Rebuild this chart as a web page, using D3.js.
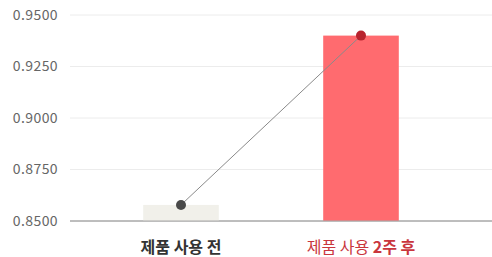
<!DOCTYPE html>
<html>
<head>
<meta charset="utf-8">
<script src="https://cdn.jsdelivr.net/npm/d3@7"></script>
<style>
  body { margin: 0; background: #fff; }
  svg { display: block; font-family: "Noto Sans CJK KR", "Noto Sans", sans-serif; }
</style>
</head>
<body>
<div id="chart"></div>
<script>
// data
var categories = ["제품 사용 전", "제품 사용 2주 후"];
var values = [0.8578, 0.9400];
var yTicks = [0.8500, 0.8750, 0.9000, 0.9250, 0.9500];

var width = 492, height = 257;
var margin = { top: 15, right: 0, bottom: 36, left: 70 };

var svg = d3.select("#chart")
    .append("svg")
    .attr("width", width)
    .attr("height", height);

// Y scale
var y = d3.scaleLinear()
    .domain([0.85, 0.95])
    .range([height - margin.bottom, margin.top]);

// X scale
var x = d3.scaleBand()
    .domain(categories)
    .range([91, 451])
    .paddingInner(0.58)
    .paddingOuter(0.29);

// gridlines
svg.append("g")
    .selectAll("line")
    .data(yTicks)
    .join("line")
    .attr("x1", margin.left)
    .attr("x2", width)
    .attr("y1", d => y(d))
    .attr("y2", d => y(d))
    .attr("stroke", d => d == 0.85 ? "#a8a8a8" : "#ececec")
    .attr("stroke-width", 1);

// tick labels
svg.append("g")
    .selectAll("text")
    .data(yTicks)
    .join("text")
    .attr("x", 58)
    .attr("y", d => y(d))
    .attr("dy", "0.35em")
    .attr("text-anchor", "end")
    .attr("fill", "#666")
    .style("font-size", "14px")
    .style("letter-spacing", "0.4px")
    .text(d => d.toFixed(4));

// bars
var barColors = ["#f1f0ea", "#ff6b6f"];
svg.append("g")
    .selectAll("rect")
    .data(values)
    .join("rect")
    .attr("x", (d, i) => x(categories[i]))
    .attr("y", d => y(d))
    .attr("width", x.bandwidth())
    .attr("height", d => y(0.85) - y(d))
    .attr("fill", (d, i) => barColors[i]);

// baseline on top of bars
svg.append("line")
    .attr("x1", margin.left)
    .attr("x2", width)
    .attr("y1", y(0.85))
    .attr("y2", y(0.85))
    .attr("stroke", "#a8a8a8");

// connecting line
var line = d3.line()
    .x((d, i) => x(categories[i]) + x.bandwidth() / 2)
    .y(d => y(d));
svg.append("path")
    .datum(values)
    .attr("d", line)
    .attr("fill", "none")
    .attr("stroke", "#8a8a8a")
    .attr("stroke-width", 1);

// dots
var dotColors = ["#4a4a4a", "#b8232e"];
svg.append("g")
    .selectAll("circle")
    .data(values)
    .join("circle")
    .attr("cx", (d, i) => x(categories[i]) + x.bandwidth() / 2)
    .attr("cy", d => y(d))
    .attr("r", 5)
    .attr("fill", (d, i) => dotColors[i]);

// category labels
svg.append("text")
    .attr("x", x(categories[0]) + x.bandwidth() / 2)
    .attr("y", 253)
    .attr("text-anchor", "middle")
    .attr("fill", "#333")
    .style("font-size", "16px")
    .style("font-weight", "bold")
    .text(categories[0]);

var lab2 = svg.append("text")
    .attr("x", x(categories[1]) + x.bandwidth() / 2)
    .attr("y", 253)
    .attr("text-anchor", "middle")
    .attr("fill", "#c9363d")
    .style("font-size", "16px");
lab2.append("tspan").text("제품 사용 ");
lab2.append("tspan").style("font-weight", "bold").text("2주 후");
</script>
</body>
</html>
